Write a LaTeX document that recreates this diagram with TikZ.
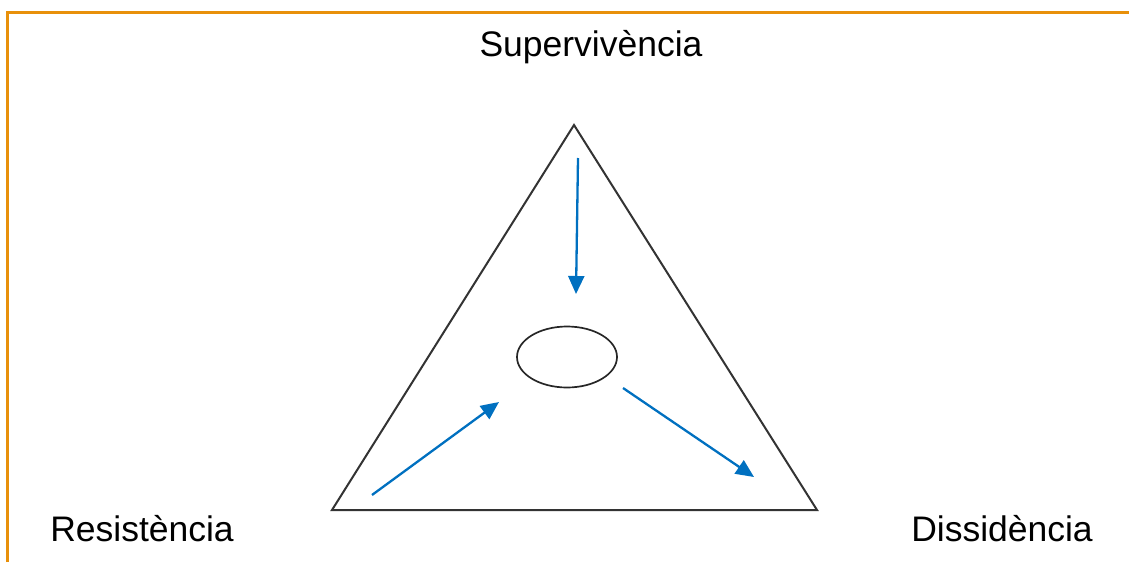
\documentclass[tikz,border=0pt]{standalone}
\usepackage{fontspec}
\setmainfont{Liberation Sans}
\usetikzlibrary{arrows.meta,shapes.geometric}
\definecolor{frameorange}{RGB}{232,144,10}
\definecolor{arrowblue}{RGB}{0,112,192}
\begin{document}
\begin{tikzpicture}[x=1pt,y=-1pt,
  label/.style={inner sep=0pt,anchor=base,font=\fontsize{35.5}{40}\selectfont},
  tri/.style={draw=black!80,line width=2pt,line join=miter},
  flow/.style={draw=arrowblue,line width=2.3pt,-{Triangle[length=18pt,width=16pt]}},
  frame/.style={draw=frameorange,line width=3pt}]
\useasboundingbox (0,0) rectangle (1129,562);
% frame
\coordinate (fA) at (7,562);
\coordinate (fB) at (7,12);
\coordinate (fC) at (1129,12);
\draw[frame] (fA) -- (fB) -- (fC);
% triangle
\coordinate (top) at (574,125);
\coordinate (bl) at (332,510);
\coordinate (br) at (817,510);
\draw[tri] (top) -- (br) -- (bl) -- cycle;
% centre ellipse
\node[draw=black!85,line width=1.7pt,ellipse,minimum width=100pt,minimum height=61pt,inner sep=0pt] (core) at (567,357) {};
% labels
\node[label] (sup) at (591,56) {Supervivència};
\node[label] (res) at (142,541) {Resistència};
\node[label] (dis) at (1002,541) {Dissidència};
% arrows
\coordinate (a1s) at (578,158);
\coordinate (a1e) at (576,294);
\coordinate (a2s) at (372,495);
\coordinate (a2e) at (499,402);
\coordinate (a3s) at (623,388);
\coordinate (a3e) at (754,477);
\draw[flow] (a1s) -- (a1e);
\draw[flow] (a2s) -- (a2e);
\draw[flow] (a3s) -- (a3e);
\end{tikzpicture}
\end{document}
